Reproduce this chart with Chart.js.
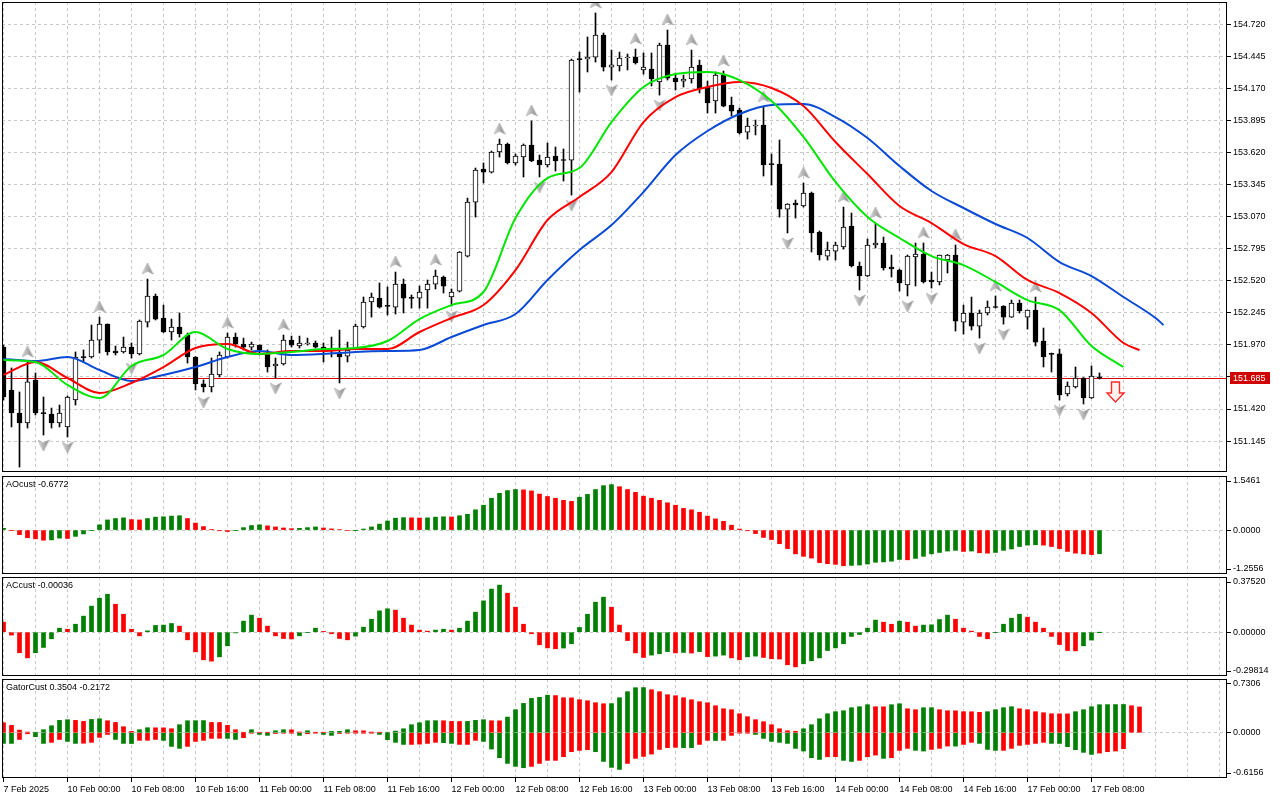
<!DOCTYPE html>
<html>
<head>
<meta charset="utf-8">
<script src="https://cdn.jsdelivr.net/npm/chart.js@4.4.1/dist/chart.umd.min.js"></script>
<style>
	html, body { margin: 0; padding: 0; background: #fff; }
	body { width: 1280px; height: 800px; position: relative; overflow: hidden; }
	canvas { position: absolute; left: 0; }
</style>
</head>
<body>
<canvas id="main" width="1280" height="474" style="top:0"></canvas>
<canvas id="ao" width="1280" height="102" style="top:474px"></canvas>
<canvas id="ac" width="1280" height="102" style="top:576px"></canvas>
<canvas id="gator" width="1280" height="122" style="top:678px"></canvas>
<script>
// one label every 8 hourly bars
var timeLabels = ['7 Feb 2025', '10 Feb 00:00', '10 Feb 08:00', '10 Feb 16:00', '11 Feb 00:00', '11 Feb 08:00',
	'11 Feb 16:00', '12 Feb 00:00', '12 Feb 08:00', '12 Feb 16:00', '13 Feb 00:00', '13 Feb 08:00',
	'13 Feb 16:00', '14 Feb 00:00', '14 Feb 08:00', '14 Feb 16:00', '17 Feb 00:00', '17 Feb 08:00'];

var open = [151.951, 151.583, 151.386, 151.300, 151.669, 151.386, 151.377, 151.300, 151.266, 151.497,
	151.866, 151.866, 152.011, 152.148, 151.917, 151.909, 151.951, 151.892, 152.165, 152.389,
	152.200, 152.080, 152.123, 152.054, 151.866, 151.635, 151.609, 151.712, 151.866, 152.037,
	151.977, 151.951, 151.968, 151.900, 151.789, 151.806, 152.011, 151.960, 151.977, 151.986,
	151.951, 151.926, 151.892, 151.874, 151.943, 152.123, 152.337, 152.371, 152.303, 152.294,
	152.491, 152.371, 152.371, 152.440, 152.491, 152.551, 152.380, 152.431, 152.731, 153.194,
	153.477, 153.451, 153.623, 153.692, 153.529, 153.580, 153.683, 153.554, 153.512, 153.589,
	153.554, 153.554, 154.420, 154.420, 154.437, 154.626, 154.351, 154.360, 154.429, 154.437,
	154.326, 154.334, 154.223, 154.540, 154.257, 154.231, 154.249, 154.369, 154.180, 154.060,
	154.283, 154.026, 153.983, 153.794, 153.846, 153.854, 153.520, 153.520, 153.134, 153.186,
	153.160, 153.271, 152.937, 152.731, 152.774, 152.809, 152.989, 152.646, 152.560, 152.826,
	152.843, 152.637, 152.611, 152.483, 152.723, 152.749, 152.526, 152.509, 152.697, 152.740,
	152.165, 152.243, 152.131, 152.243, 152.294, 152.303, 152.208, 152.328, 152.208, 152.268,
	152.003, 151.892, 151.892, 151.549, 151.609, 151.686, 151.514, 151.695];
var high = [151.968, 151.772, 151.566, 151.823, 151.729, 151.523, 151.428, 151.454, 151.532, 151.909,
	151.926, 152.140, 152.208, 152.150, 151.960, 152.037, 151.986, 152.183, 152.534, 152.406,
	152.311, 152.191, 152.243, 152.071, 151.870, 151.669, 151.857, 151.909, 152.071, 152.071,
	152.028, 151.994, 151.970, 151.926, 151.857, 152.054, 152.045, 152.045, 152.028, 152.003,
	151.986, 152.037, 152.097, 151.994, 152.148, 152.380, 152.414, 152.500, 152.466, 152.594,
	152.534, 152.397, 152.474, 152.526, 152.611, 152.560, 152.449, 152.770, 153.228, 153.486,
	153.529, 153.631, 153.734, 153.700, 153.606, 153.692, 153.889, 153.597, 153.700, 153.666,
	153.649, 154.420, 154.480, 154.609, 154.815, 154.643, 154.497, 154.480, 154.463, 154.506,
	154.472, 154.472, 154.557, 154.669, 154.300, 154.283, 154.497, 154.411, 154.231, 154.309,
	154.317, 154.094, 154.000, 153.914, 153.897, 154.009, 153.606, 153.726, 153.180, 153.211,
	153.357, 153.280, 152.946, 152.851, 152.851, 153.151, 153.100, 152.680, 152.877, 153.014,
	152.894, 152.740, 152.620, 152.740, 152.843, 152.843, 152.594, 152.740, 152.745, 152.826,
	152.311, 152.380, 152.268, 152.346, 152.389, 152.306, 152.354, 152.354, 152.268, 152.380,
	152.114, 151.900, 151.934, 151.652, 151.780, 151.690, 151.789, 151.729];
var low = [151.497, 151.266, 150.922, 151.257, 151.369, 151.197, 151.257, 151.266, 151.180, 151.454,
	151.823, 151.857, 151.900, 151.883, 151.883, 151.900, 151.857, 151.883, 152.123, 152.183,
	152.075, 152.011, 152.037, 151.814, 151.583, 151.566, 151.566, 151.695, 151.857, 151.951,
	151.926, 151.926, 151.883, 151.737, 151.686, 151.797, 151.951, 151.943, 151.968, 151.943,
	151.823, 151.866, 151.643, 151.823, 151.934, 152.114, 152.208, 152.285, 152.226, 152.234,
	152.243, 152.285, 152.285, 152.285, 152.449, 152.414, 152.303, 152.423, 152.723, 153.065,
	153.357, 153.443, 153.580, 153.520, 153.512, 153.409, 153.540, 153.409, 153.494, 153.460,
	153.374, 153.254, 154.137, 154.309, 154.394, 154.317, 154.240, 154.317, 154.326, 154.377,
	154.291, 154.189, 154.111, 154.240, 154.154, 154.180, 154.214, 154.129, 153.957, 153.957,
	154.010, 153.932, 153.777, 153.734, 153.769, 153.417, 153.340, 153.065, 152.929, 153.057,
	153.151, 152.766, 152.697, 152.697, 152.697, 152.791, 152.637, 152.440, 152.555, 152.800,
	152.611, 152.551, 152.431, 152.389, 152.474, 152.500, 152.457, 152.483, 152.586, 152.088,
	152.063, 152.097, 152.028, 152.226, 152.285, 152.148, 152.205, 152.243, 152.105, 151.960,
	151.780, 151.737, 151.497, 151.532, 151.600, 151.463, 151.510, 151.677];
var close = [151.523, 151.386, 151.300, 151.652, 151.386, 151.380, 151.300, 151.386, 151.523, 151.866,
	151.860, 152.011, 152.148, 151.909, 151.900, 151.951, 151.892, 152.174, 152.389, 152.191,
	152.080, 152.123, 152.063, 151.866, 151.635, 151.609, 151.720, 151.883, 152.037, 151.977,
	151.951, 151.977, 151.926, 151.780, 151.806, 152.011, 151.968, 151.986, 151.986, 151.951,
	151.926, 151.934, 151.866, 151.926, 152.131, 152.337, 152.380, 152.294, 152.300, 152.491,
	152.371, 152.368, 152.423, 152.491, 152.560, 152.474, 152.423, 152.766, 153.194, 153.469,
	153.451, 153.623, 153.692, 153.529, 153.589, 153.683, 153.546, 153.512, 153.580, 153.546,
	153.550, 154.411, 154.415, 154.437, 154.626, 154.351, 154.370, 154.429, 154.437, 154.386,
	154.351, 154.249, 154.540, 154.257, 154.223, 154.249, 154.351, 154.163, 154.043, 154.283,
	154.017, 153.974, 153.786, 153.846, 153.854, 153.512, 153.515, 153.134, 153.177, 153.169,
	153.271, 152.929, 152.740, 152.783, 152.826, 152.980, 152.646, 152.560, 152.826, 152.843,
	152.629, 152.620, 152.500, 152.731, 152.749, 152.509, 152.509, 152.740, 152.740, 152.174,
	152.243, 152.131, 152.243, 152.294, 152.290, 152.208, 152.328, 152.260, 152.268, 151.994,
	151.866, 151.888, 151.540, 151.617, 151.686, 151.514, 151.703, 151.685];

// bar numbers carrying a fractal
var fractalUp = [3, 12, 18, 28, 35, 49, 54, 62, 66, 74, 79, 83, 86, 90, 95, 100, 105, 109, 115, 119, 124, 129];
var fractalDown = [2, 5, 8, 16, 25, 34, 42, 56, 67, 71, 76, 82, 98, 107, 113, 116, 122, 125, 132, 135];

// alligator lines read every 4th bar, last value at the shifted end
var lips = [151.840, 151.823, 151.626, 151.514, 151.789, 151.883, 152.080, 151.934, 151.892, 151.909,
	151.934, 151.943, 152.003, 152.191, 152.311, 152.423, 153.057, 153.400, 153.486, 153.880,
	154.180, 154.291, 154.309, 154.240, 154.060, 153.752, 153.366, 153.066, 152.886, 152.731,
	152.654, 152.509, 152.354, 152.268, 151.960, 151.780];
var teeth = [151.712, 151.823, 151.686, 151.557, 151.643, 151.780, 151.943, 151.977, 151.892, 151.917,
	151.917, 151.934, 151.934, 152.080, 152.200, 152.311, 152.611, 153.040, 153.237, 153.451,
	153.880, 154.094, 154.180, 154.223, 154.172, 154.017, 153.709, 153.434, 153.160, 153.014,
	152.834, 152.731, 152.526, 152.414, 152.243, 151.986, 151.926];
var jaw = [151.849, 151.831, 151.866, 151.754, 151.660, 151.712, 151.780, 151.866, 151.917, 151.883,
	151.892, 151.909, 151.917, 151.926, 152.037, 152.140, 152.234, 152.526, 152.783, 152.997,
	153.280, 153.597, 153.803, 153.949, 154.026, 154.034, 153.923, 153.743, 153.503, 153.289,
	153.143, 153.006, 152.886, 152.680, 152.560, 152.380, 152.200, 152.140];
var lipsEnd = 140, teethEnd = 142, jawEnd = 145;

var priceTicks = [154.720, 154.445, 154.170, 153.895, 153.620, 153.345, 153.070, 152.795,
	152.520, 152.245, 151.970, 151.695, 151.420, 151.145];
var signalBar = [139], signalPrice = [151.651];

var ao = [0.05, -0.01, -0.13, -0.22, -0.25, -0.29, -0.28, -0.23, -0.24, -0.18,
	-0.11, -0.01, 0.15, 0.29, 0.33, 0.35, 0.30, 0.29, 0.33, 0.37,
	0.38, 0.40, 0.41, 0.33, 0.20, 0.10, 0.01, -0.02, -0.04, -0.01,
	0.07, 0.13, 0.15, 0.12, 0.09, 0.06, 0.04, 0.05, 0.07, 0.09,
	0.06, 0.035, 0.015, -0.015, -0.005, 0.03, 0.09, 0.17, 0.26, 0.34,
	0.355, 0.35, 0.345, 0.35, 0.37, 0.38, 0.375, 0.41, 0.45, 0.58,
	0.71, 0.91, 1.05, 1.13, 1.16, 1.15, 1.12, 1.03, 0.96, 0.91,
	0.85, 0.82, 0.94, 1.02, 1.16, 1.27, 1.30, 1.24, 1.16, 1.08,
	0.97, 0.91, 0.85, 0.78, 0.71, 0.62, 0.58, 0.51, 0.40, 0.32,
	0.25, 0.14, 0.03, -0.02, -0.10, -0.21, -0.27, -0.39, -0.53, -0.68,
	-0.75, -0.80, -0.93, -0.96, -0.98, -1.02, -1.01, -1.00, -0.97, -0.92,
	-0.91, -0.89, -0.84, -0.85, -0.81, -0.75, -0.68, -0.64, -0.60, -0.58,
	-0.61, -0.60, -0.65, -0.66, -0.64, -0.58, -0.54, -0.47, -0.43, -0.42,
	-0.43, -0.47, -0.53, -0.61, -0.66, -0.68, -0.70, -0.6772];
var aoColors = 'grrrrrggrg' + 'ggggggrrgg' + 'gggrrrrrrg' + 'gggrrrrggg' + 'rrrrgggggg' + 'grrgggrggg' +
	'gggggrrrrr' + 'rrgggggrrr' + 'rrrrrrrrrr' + 'rrrrrrrrrr' + 'rrrrrrgggg' + 'gggrgggggg' + 'rgrrgggggg' + 'rrrrrrrg';

var ac = [0.068, -0.020, -0.140, -0.175, -0.140, -0.104, -0.045, 0.027, 0.020, 0.054,
	0.109, 0.177, 0.231, 0.258, 0.190, 0.122, 0.020, -0.025, 0.009, 0.046,
	0.048, 0.059, 0.041, -0.052, -0.134, -0.188, -0.197, -0.168, -0.093, -0.005,
	0.075, 0.116, 0.095, 0.041, -0.025, -0.043, -0.046, -0.025, -0.002, 0.027,
	0.005, -0.011, -0.043, -0.052, -0.027, 0.034, 0.088, 0.145, 0.159, 0.150,
	0.095, 0.048, 0.014, 0.007, 0.014, 0.020, 0.014, 0.027, 0.075, 0.136,
	0.213, 0.293, 0.320, 0.265, 0.170, 0.054, -0.011, -0.086, -0.107, -0.113,
	-0.108, -0.079, 0.032, 0.122, 0.204, 0.238, 0.170, 0.048, -0.057, -0.141,
	-0.172, -0.156, -0.147, -0.132, -0.141, -0.138, -0.142, -0.132, -0.166, -0.163,
	-0.156, -0.175, -0.188, -0.168, -0.163, -0.172, -0.181, -0.183, -0.222, -0.236,
	-0.215, -0.195, -0.175, -0.125, -0.107, -0.079, -0.029, -0.016, 0.027, 0.082,
	0.068, 0.054, 0.075, 0.068, 0.041, 0.048, 0.050, 0.086, 0.116, 0.088,
	0.027, 0.007, -0.029, -0.045, -0.002, 0.054, 0.095, 0.122, 0.102, 0.068,
	0.027, -0.029, -0.084, -0.125, -0.127, -0.093, -0.054, -0.00036];
var acColors = 'rrrrggggrg' + 'ggggrrrrgg' + 'ggrrrrrggg' + 'ggrrrrrggg' + 'rrrrgggggr' + 'rrrrggrggg' +
	'gggrrrrrrr' + 'ggggggrrrr' + 'rgggrgrgrg' + 'grrggrrrrr' + 'gggggggggg' + 'rrgrrggggr' + 'rrrrggggrr' + 'rrrrrggg';

var gatorUp = [0.136, 0.100, 0.036, 0.009, 0.003, 0.041, 0.095, 0.168, 0.177, 0.168,
	0.154, 0.181, 0.190, 0.163, 0.140, 0.082, 0.018, 0.041, 0.068, 0.067,
	0.066, 0.054, 0.109, 0.163, 0.164, 0.165, 0.140, 0.139, 0.100, 0.041,
	0.004, 0.041, 0.005, 0.004, 0.027, 0.041, 0.040, 0.010, 0.027, 0.005,
	0.004, 0.018, 0.019, 0.041, 0.027, 0.026, 0.009, 0.004, 0.005, 0.023,
	0.054, 0.109, 0.136, 0.163, 0.164, 0.163, 0.154, 0.153, 0.154, 0.168,
	0.177, 0.163, 0.162, 0.213, 0.313, 0.399, 0.467, 0.481, 0.510, 0.505,
	0.476, 0.474, 0.449, 0.435, 0.408, 0.394, 0.396, 0.476, 0.558, 0.612,
	0.614, 0.585, 0.558, 0.517, 0.503, 0.476, 0.449, 0.422, 0.408, 0.367,
	0.326, 0.313, 0.258, 0.218, 0.177, 0.150, 0.109, 0.054, 0.027, 0.020,
	0.054, 0.109, 0.190, 0.258, 0.286, 0.299, 0.340, 0.354, 0.381, 0.354,
	0.353, 0.381, 0.394, 0.326, 0.313, 0.340, 0.341, 0.313, 0.299, 0.298,
	0.286, 0.285, 0.277, 0.286, 0.313, 0.340, 0.354, 0.326, 0.313, 0.286,
	0.272, 0.258, 0.257, 0.256, 0.286, 0.313, 0.354, 0.381, 0.382, 0.383,
	0.384, 0.367, 0.3504];
var gatorUpColors = 'rrrrgggggr' + 'rggrrrrggr' + 'rrggggrrrr' + 'rgrrggrrgr' + 'rgggrrrrgg' + 'gggggrrrgg' +
	'grrggggggr' + 'rrrrrrgggg' + 'grrrrrrrrr' + 'rrrrrrrrrr' + 'gggggggggr' + 'rggrrggrrr' + 'rrrggggrrr' +
	'rrrrgggggg' + 'grr';

var gatorDown = [-0.145, -0.145, -0.091, -0.014, -0.054, -0.145, -0.131, -0.091, -0.118, -0.145,
	-0.143, -0.131, -0.063, -0.023, -0.091, -0.145, -0.147, -0.104, -0.103, -0.091,
	-0.104, -0.186, -0.213, -0.186, -0.118, -0.104, -0.077, -0.076, -0.077, -0.091,
	-0.068, -0.005, -0.023, -0.036, -0.010, -0.005, -0.004, -0.036, -0.014, -0.005,
	-0.023, -0.036, -0.010, -0.005, -0.004, -0.003, -0.002, -0.023, -0.095, -0.131,
	-0.159, -0.159, -0.155, -0.145, -0.131, -0.135, -0.145, -0.159, -0.159, -0.104,
	-0.118, -0.222, -0.340, -0.417, -0.458, -0.476, -0.458, -0.417, -0.376, -0.376,
	-0.326, -0.258, -0.240, -0.231, -0.258, -0.390, -0.471, -0.499, -0.417, -0.349,
	-0.322, -0.290, -0.227, -0.203, -0.199, -0.204, -0.204, -0.159, -0.104, -0.106,
	-0.104, -0.036, -0.006, -0.005, -0.023, -0.077, -0.118, -0.131, -0.145, -0.213,
	-0.249, -0.340, -0.363, -0.327, -0.326, -0.376, -0.390, -0.376, -0.327, -0.304,
	-0.349, -0.340, -0.240, -0.213, -0.240, -0.249, -0.227, -0.213, -0.181, -0.182,
	-0.159, -0.131, -0.145, -0.227, -0.240, -0.240, -0.213, -0.172, -0.159, -0.145,
	-0.131, -0.145, -0.146, -0.190, -0.231, -0.267, -0.295, -0.277, -0.258, -0.249,
	-0.2172];
var gatorDownColors = 'ggrrggrrgg' + 'rrrrgggrrr' + 'gggrrrrrgg' + 'rrggrrrgrr' + 'ggrrrrrggg' + 'grrrrggrrr' +
	'ggggggrrrr' + 'rrrrggggrr' + 'rrrrrggrrg' + 'rrrrgggggg' + 'gggrrggrrr' + 'grrrggrrrg' + 'rrgggrrrrr' +
	'rggggggrrrr';

var aoRange = [-1.2556, 1.5461], aoLabels = ['-1.2556', '0.0000', '1.5461'];
var acRange = [-0.29814, 0.37520], acLabels = ['-0.29814', '0.00000', '0.37520'];
var gatorRange = [-0.6156, 0.7306], gatorLabels = ['-0.6156', '0.0000', '0.7306'];

var GREEN = '#008000', RED = '#ff0000', GRID = '#c8c8c8';
var FONT = { family: '"Liberation Sans", Arial, sans-serif', size: 9 };
var X_MIN = -0.1875, X_MAX = 152.9375; // 8 px per bar, 1225 px wide plot

Chart.defaults.font.family = FONT.family;
Chart.defaults.font.size = FONT.size;
Chart.defaults.color = '#000';

function barColors(str) {
	return str.split('').map(function (c) { return c === 'g' ? GREEN : RED; });
}

function byBar(values) {
	return values.map(function (v, i) { return { x: i, y: v }; });
}

function everyFourth(values, lastBar) {
	return values.map(function (v, k) {
		return { x: k < values.length - 1 ? k * 4 : lastBar, y: v };
	});
}

function timeLabelAt(v) {
	return v % 8 === 0 && timeLabels[v / 8] ? timeLabels[v / 8] : '';
}

function fractalSprite(up) {
	var c = document.createElement('canvas');
	c.width = 12;
	c.height = 32;
	var g = c.getContext('2d');
	g.translate(6, up ? 5.5 : 26.5);
	if (!up) {
		g.scale(1, -1);
	}
	g.beginPath();
	g.moveTo(0, -5.5);
	g.lineTo(5.5, 5.5);
	g.lineTo(0, 2.5);
	g.lineTo(-5.5, 5.5);
	g.closePath();
	var grad = g.createLinearGradient(-5, 0, 5, 0);
	grad.addColorStop(0, '#dcdcdc');
	grad.addColorStop(1, '#8a8a8a');
	g.fillStyle = grad;
	g.fill();
	g.strokeStyle = '#9c9c9c';
	g.lineWidth = 0.6;
	g.stroke();
	return c;
}

function xAxis(showLabels) {
	return {
		type: 'linear',
		min: X_MIN,
		max: X_MAX,
		offset: false,
		afterBuildTicks: function (s) {
			var t = [];
			for (var v = 0; v <= 152; v += 4) {
				t.push({ value: v });
			}
			s.ticks = t;
		},
		afterFit: function (s) {
			s.height = showLabels ? 22 : 0;
			s.paddingLeft = 0;
			s.paddingRight = 0;
		},
		grid: {
			color: GRID,
			offset: false,
			drawTicks: showLabels,
			tickLength: 4,
			tickColor: function (c) {
				return c.tick && timeLabelAt(c.tick.value) ? '#000' : 'rgba(0,0,0,0)';
			}
		},
		border: { display: false, dash: [3, 3] },
		ticks: {
			display: showLabels,
			autoSkip: false,
			maxRotation: 0,
			minRotation: 0,
			align: 'start',
			padding: 2,
			color: '#000',
			font: FONT,
			callback: timeLabelAt
		}
	};
}

function panelAxis(range, labels) {
	return {
		position: 'right',
		min: range[0],
		max: range[1],
		afterBuildTicks: function (s) {
			var inset = 5 * (range[1] - range[0]) / (s.height || 98);
			s.ticks = [{ value: range[0] + inset }, { value: 0 }, { value: range[1] - inset }];
		},
		afterFit: function (s) {
			s.width = 53;
			s.paddingTop = 0;
			s.paddingBottom = 0;
		},
		grid: {
			color: function (c) {
				return c.tick && c.tick.value === 0 ? GRID : 'rgba(0,0,0,0)';
			},
			tickColor: '#000',
			tickLength: 4
		},
		border: { display: false, dash: [3, 3] },
		ticks: {
			padding: 2,
			color: '#000',
			font: FONT,
			callback: function (v, i) { return labels[i]; }
		}
	};
}

var framePlugin = {
	id: 'frame',
	afterDraw: function (chart) {
		var a = chart.chartArea, ctx = chart.ctx;
		ctx.save();
		ctx.strokeStyle = '#000';
		ctx.lineWidth = 1;
		ctx.strokeRect(a.left + 0.5, a.top + 0.5, a.right - a.left - 1, a.bottom - a.top - 1);
		ctx.restore();
	}
};

var titlePlugin = {
	id: 'panelTitle',
	afterDraw: function (chart, args, opts) {
		if (!opts || !opts.text) {
			return;
		}
		var ctx = chart.ctx;
		ctx.save();
		ctx.fillStyle = '#000';
		ctx.font = FONT.size + 'px ' + FONT.family;
		ctx.textBaseline = 'top';
		ctx.fillText(opts.text, chart.chartArea.left + 4, chart.chartArea.top + 4);
		ctx.restore();
	}
};

var lastPrice = close[close.length - 1];

var pricePlugin = {
	id: 'priceLine',
	beforeDatasetsDraw: function (chart) {
		var a = chart.chartArea, ctx = chart.ctx;
		var y = Math.round(chart.scales.y.getPixelForValue(lastPrice)) + 0.5;
		ctx.save();
		ctx.strokeStyle = '#e00000';
		ctx.lineWidth = 1;
		ctx.beginPath();
		ctx.moveTo(a.left, y);
		ctx.lineTo(a.right, y);
		ctx.stroke();
		ctx.restore();
	},
	afterDraw: function (chart) {
		var a = chart.chartArea, ctx = chart.ctx;
		var y = Math.round(chart.scales.y.getPixelForValue(lastPrice));
		ctx.save();
		ctx.fillStyle = '#d00000';
		ctx.fillRect(a.right + 3, y - 6, 40, 12);
		ctx.fillStyle = '#fff';
		ctx.font = FONT.size + 'px ' + FONT.family;
		ctx.textBaseline = 'middle';
		ctx.fillText(lastPrice.toFixed(3), a.right + 6, y + 0.5);

		// sell signal arrow
		var x = chart.scales.x.getPixelForValue(signalBar[0]);
		var top = chart.scales.y.getPixelForValue(signalPrice[0]);
		ctx.beginPath();
		ctx.moveTo(x - 4, top);
		ctx.lineTo(x + 4, top);
		ctx.lineTo(x + 4, top + 11);
		ctx.lineTo(x + 8.5, top + 11);
		ctx.lineTo(x, top + 20);
		ctx.lineTo(x - 8.5, top + 11);
		ctx.lineTo(x - 4, top + 11);
		ctx.closePath();
		ctx.fillStyle = '#fff4ee';
		ctx.fill();
		ctx.strokeStyle = '#ff2a2a';
		ctx.lineWidth = 1.4;
		ctx.stroke();
		ctx.restore();
	}
};

var baseOptions = function (padding, showLabels, yAxis, title) {
	return {
		responsive: false,
		animation: false,
		events: [],
		layout: { padding: padding, autoPadding: false },
		plugins: {
			legend: { display: false },
			tooltip: { enabled: false },
			panelTitle: { text: title }
		},
		scales: { x: xAxis(showLabels), y: yAxis }
	};
};

function maLine(data, color) {
	return {
		type: 'line',
		data: data,
		borderColor: color,
		borderWidth: 2,
		pointRadius: 0,
		cubicInterpolationMode: 'monotone'
	};
}

// main price panel
new Chart(document.getElementById('main'), {
	type: 'bar',
	data: {
		datasets: [
			maLine(everyFourth(lips, lipsEnd), '#00e600'),
			maLine(everyFourth(teeth, teethEnd), '#ff0000'),
			maLine(everyFourth(jaw, jawEnd), '#0a4ad6'),
			{
				type: 'line', showLine: false, pointRadius: 4, pointStyle: fractalSprite(true),
				data: fractalUp.map(function (i) { return { x: i, y: high[i] }; })
			},
			{
				type: 'line', showLine: false, pointRadius: 4, pointStyle: fractalSprite(false),
				data: fractalDown.map(function (i) { return { x: i, y: low[i] }; })
			},
			{
				type: 'bar',
				data: open.map(function (o, i) { return { x: i, y: [o, close[i]] }; }),
				backgroundColor: open.map(function (o, i) { return close[i] >= o ? '#fff' : '#000'; }),
				borderColor: '#000',
				borderWidth: 1,
				borderSkipped: false,
				barThickness: 5,
				minBarLength: 1,
				grouped: false
			},
			{
				type: 'bar',
				data: low.map(function (l, i) { return { x: i, y: [l, high[i]] }; }),
				backgroundColor: '#000',
				borderWidth: 0,
				barThickness: 1,
				grouped: false
			}
		]
	},
	options: baseOptions({ left: 2, top: 2, right: 0, bottom: 2 }, false, {
		position: 'right',
		min: 150.880,
		max: 154.909,
		afterBuildTicks: function (s) {
			s.ticks = priceTicks.map(function (v) { return { value: v }; });
		},
		afterFit: function (s) {
			s.width = 53;
			s.paddingTop = 0;
			s.paddingBottom = 0;
		},
		grid: { color: GRID, tickColor: '#000', tickLength: 4 },
		border: { display: false, dash: [3, 3] },
		ticks: {
			padding: 2,
			color: '#000',
			font: FONT,
			callback: function (v) { return v.toFixed(3); }
		}
	}, null),
	plugins: [pricePlugin, framePlugin, titlePlugin]
});

function histogram(id, values, colors, range, labels, title, padding) {
	new Chart(document.getElementById(id), {
		type: 'bar',
		data: {
			datasets: [{
				data: byBar(values),
				backgroundColor: barColors(colors),
				borderWidth: 0,
				barThickness: 4,
				grouped: false
			}]
		},
		options: baseOptions(padding, false, panelAxis(range, labels), title),
		plugins: [framePlugin, titlePlugin]
	});
}

histogram('ao', ao, aoColors, aoRange, aoLabels, 'AOcust -0.6772', { left: 2, top: 2, right: 0, bottom: 2 });
histogram('ac', ac, acColors, acRange, acLabels, 'ACcust -0.00036', { left: 2, top: 1, right: 0, bottom: 2 });

new Chart(document.getElementById('gator'), {
	type: 'bar',
	data: {
		datasets: [
			{ data: byBar(gatorUp), backgroundColor: barColors(gatorUpColors), borderWidth: 0, barThickness: 4, grouped: false },
			{ data: byBar(gatorDown), backgroundColor: barColors(gatorDownColors), borderWidth: 0, barThickness: 4, grouped: false }
		]
	},
	options: baseOptions({ left: 2, top: 1, right: 0, bottom: 0 }, true, panelAxis(gatorRange, gatorLabels), 'GatorCust 0.3504 -0.2172'),
	plugins: [framePlugin, titlePlugin]
});
</script>
</body>
</html>
